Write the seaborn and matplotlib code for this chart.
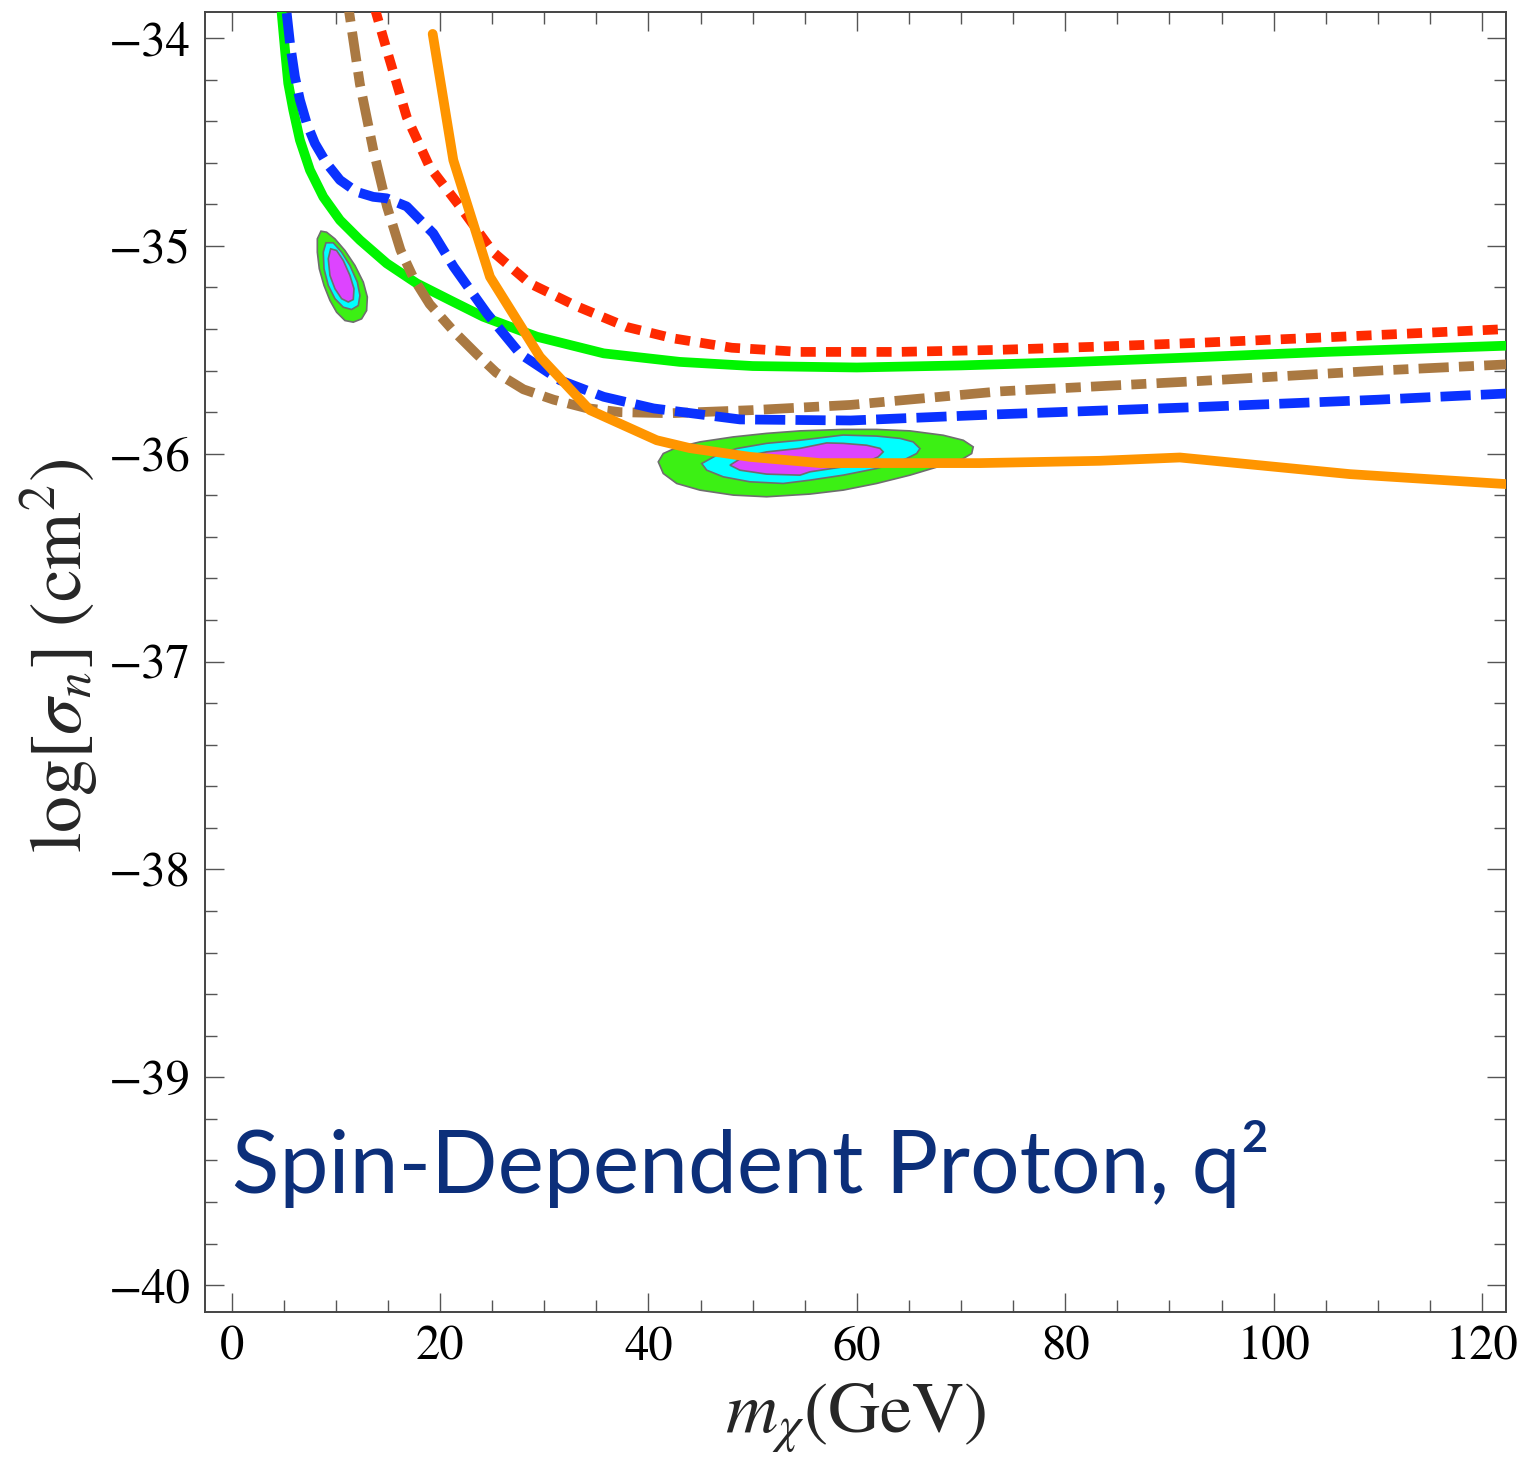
import numpy as np
import pandas as pd
import matplotlib
matplotlib.use("Agg")
import matplotlib.pyplot as plt
from matplotlib.ticker import MultipleLocator
from matplotlib.font_manager import FontProperties
import seaborn as sns

# ---------------- data ----------------
green_x = [4.8, 5.12, 5.43, 5.91, 6.55, 7.51, 8.79, 10.39, 12.31, 14.88, 17.75, 20.95, 24.15, 29.3, 35.7,
           43.0, 50, 60, 70, 80, 92.9, 105, 122.4]
green_y = [-33.88, -34.058, -34.218, -34.346, -34.491, -34.635, -34.764, -34.876, -34.972, -35.084, -35.18,
           -35.261, -35.341, -35.437, -35.517, -35.558, -35.578, -35.585, -35.575, -35.56, -35.535, -35.51, -35.48]

red_x = [13.7, 14.9, 16.8, 19.0, 21.9, 25.1, 28.6, 33.1, 37.9, 42.4, 48, 54.6, 64, 73.7, 83, 92.9, 105, 122.4]
red_y = [-33.85, -34.06, -34.38, -34.62, -34.81, -35.03, -35.18, -35.29, -35.39, -35.445, -35.49, -35.51,
         -35.51, -35.50, -35.485, -35.466, -35.44, -35.40]

brown_x = [11.2, 12.3, 13.6, 14.9, 16.2, 17.5, 19.0, 21.3, 23.5, 25.4, 28.0, 30.9, 34, 37.3, 42.1, 50,
           59.4, 73.7, 92.9, 110, 122.4]
brown_y = [-33.85, -34.22, -34.54, -34.81, -35.02, -35.16, -35.28, -35.41, -35.52, -35.61, -35.69, -35.74,
           -35.78, -35.80, -35.805, -35.79, -35.765, -35.70, -35.65, -35.60, -35.57]

blue_x = [5.28, 5.60, 6.07, 6.55, 7.20, 7.99, 9.12, 10.39, 12.0, 13.59, 14.88, 16.8, 19.35, 21.3, 24.5,
          27.7, 31.5, 35.7, 40.5, 48.8, 59.4, 73.7, 92.9, 110, 122.4]
blue_y = [-33.88, -34.026, -34.186, -34.298, -34.41, -34.507, -34.603, -34.683, -34.74, -34.764, -34.771,
          -34.81, -34.94, -35.10, -35.325, -35.52, -35.646, -35.726, -35.782, -35.835, -35.84, -35.81,
          -35.775, -35.74, -35.71]

orange_x = [19.29, 21.27, 24.79, 29.59, 34.38, 40.79, 43.98, 49.74, 56.46, 71.8, 83.3, 91.0, 107.3, 122.3]
orange_y = [-33.98, -34.587, -35.149, -35.534, -35.790, -35.935, -35.973, -36.015, -36.045, -36.045,
            -36.034, -36.018, -36.098, -36.146]

# small (low-mass) contour region outlines
small_outer_x = [8.57, 8.22, 8.22, 8.41, 8.86, 9.43, 10.07, 10.87, 11.67, 12.47, 12.95, 13.02, 12.63, 11.83, 10.87, 9.91, 9.11]
small_outer_y = [-34.929, -34.966, -35.030, -35.110, -35.190, -35.262, -35.319, -35.359, -35.367, -35.351,
                 -35.311, -35.246, -35.174, -35.094, -35.022, -34.966, -34.934]
small_mid_x = [9.05, 8.79, 8.86, 9.27, 9.91, 10.71, 11.51, 12.15, 12.31, 12.06, 11.35, 10.55, 9.75]
small_mid_y = [-34.985, -35.030, -35.110, -35.190, -35.254, -35.295, -35.306, -35.287, -35.238, -35.174,
               -35.094, -35.030, -34.985]
small_in_x = [9.50, 9.27, 9.43, 9.91, 10.55, 11.19, 11.67, 11.74, 11.35, 10.71, 10.07]
small_in_y = [-35.014, -35.062, -35.142, -35.206, -35.254, -35.270, -35.258, -35.206, -35.142, -35.070, -35.022]

# large contour region outlines
big_outer_x = [40.94, 41.42, 42.71, 44.94, 48.14, 51.34, 54.54, 58.69, 61.90, 65.10, 68.29, 70.21, 71.17,
               71.02, 70.21, 68.29, 65.10, 61.90, 58.69, 55.50, 51.34, 48.14, 44.94, 42.71, 41.42]
big_outer_y = [-36.039, -35.999, -35.970, -35.943, -35.919, -35.902, -35.890, -35.883, -35.883, -35.890,
               -35.911, -35.935, -35.967, -35.999, -36.023, -36.055, -36.103, -36.143, -36.175, -36.194,
               -36.207, -36.199, -36.175, -36.143, -36.095]
big_mid_x = [45.11, 46.55, 48.46, 51.34, 54.54, 58.69, 61.90, 64.14, 65.41, 66.06, 65.74, 64.78, 63.49,
             61.90, 58.69, 55.50, 52.94, 49.74, 47.18, 45.59]
big_mid_y = [-36.047, -36.007, -35.975, -35.950, -35.935, -35.910, -35.915, -35.926, -35.943, -35.975,
             -35.999, -36.023, -36.047, -36.071, -36.103, -36.127, -36.143, -36.135, -36.111, -36.079]
big_in_x = [47.82, 49.10, 51.34, 54.54, 57.10, 58.69, 60.94, 62.22, 62.53, 62.05, 60.94, 58.69, 55.50,
            54.54, 51.34, 48.78]
big_in_y = [-36.055, -36.015, -35.991, -35.974, -35.948, -35.950, -35.959, -35.974, -35.991, -36.015,
            -36.039, -36.063, -36.087, -36.103, -36.098, -36.079]

x_ticks = [0, 20, 40, 60, 80, 100, 120]
y_ticks = [-40, -39, -38, -37, -36, -35, -34]
title_text = "Spin-Dependent Proton, q\u00b2"

# ---------------- figure ----------------
sns.set_theme(style="ticks")
plt.rcParams["font.family"] = "serif"
plt.rcParams["font.serif"] = ["STIXGeneral", "Liberation Serif", "DejaVu Serif"]
plt.rcParams["mathtext.fontset"] = "stix"
serif_fp = FontProperties(family="STIXGeneral", size=35)

fig = plt.figure(figsize=(15.22, 14.66), dpi=100)
ax = fig.add_axes([205 / 1522, 1 - 1311.7 / 1466, (1506 - 205) / 1522, (1311.7 - 12.3) / 1466])

# confidence regions
regions = [
    (small_outer_x, small_outer_y, "#3cf014"),
    (small_mid_x, small_mid_y, "#00ffff"),
    (small_in_x, small_in_y, "#dd44ff"),
    (big_outer_x, big_outer_y, "#3cf014"),
    (big_mid_x, big_mid_y, "#00ffff"),
    (big_in_x, big_in_y, "#dd44ff"),
]
for xs, ys, col in regions:
    ax.fill(xs, ys, facecolor=col, edgecolor="#6e6e6e", linewidth=1.2, zorder=2)

lw = 7.0
curves = [
    (green_x, green_y, "#00f500", "-"),
    (red_x, red_y, "#ff2a00", (0, (1.55, 1.05))),
    (brown_x, brown_y, "#aa7942", (0, (1.55, 1.05, 3.1, 1.05))),
    (blue_x, blue_y, "#0a32ff", (0, (3.1, 1.05))),
    (orange_x, orange_y, "#ff9500", "-"),
]
for i, (xs, ys, col, ls) in enumerate(curves):
    df = pd.DataFrame({"x": xs, "y": ys})
    sns.lineplot(data=df, x="x", y="y", ax=ax, color=col, linewidth=lw, linestyle=ls,
                 estimator=None, sort=False, zorder=3 + i, solid_joinstyle="round")

ax.set_xlim(-2.56, 122.3)
ax.set_ylim(-40.128, -33.876)

ax.xaxis.set_major_locator(plt.FixedLocator(x_ticks))
ax.yaxis.set_major_locator(plt.FixedLocator(y_ticks))
ax.xaxis.set_minor_locator(MultipleLocator(5))
ax.yaxis.set_minor_locator(MultipleLocator(0.2))
ax.set_xticklabels([str(v) for v in x_ticks], fontproperties=serif_fp)
ax.set_yticklabels(["\u2212" + str(abs(v)) for v in y_ticks], fontproperties=serif_fp)

ax.tick_params(which="both", direction="in", top=True, right=True, colors="#555555", labelcolor="black")
ax.tick_params(which="major", length=13.7, width=1.0, pad=10)
ax.tick_params(which="minor", length=8.6, width=1.0)
for sp in ax.spines.values():
    sp.set_color("#444444")
    sp.set_linewidth(1.4)

ax.set_xlabel(r"$m_\chi(\mathrm{GeV})$", fontsize=52, labelpad=8)
ax.set_ylabel(r"$\mathrm{log}[\sigma_n]\ (\mathrm{cm}^2)$", fontsize=53, labelpad=10)
ax.yaxis.set_label_coords(-0.08, 0.505)

ax.text(0.0, -39.558, title_text, fontsize=63, color="#0c2f7a", family=["Lato", "DejaVu Sans"],
        ha="left", va="baseline", zorder=10)

fig.savefig("out.png", dpi=100, facecolor="white")
